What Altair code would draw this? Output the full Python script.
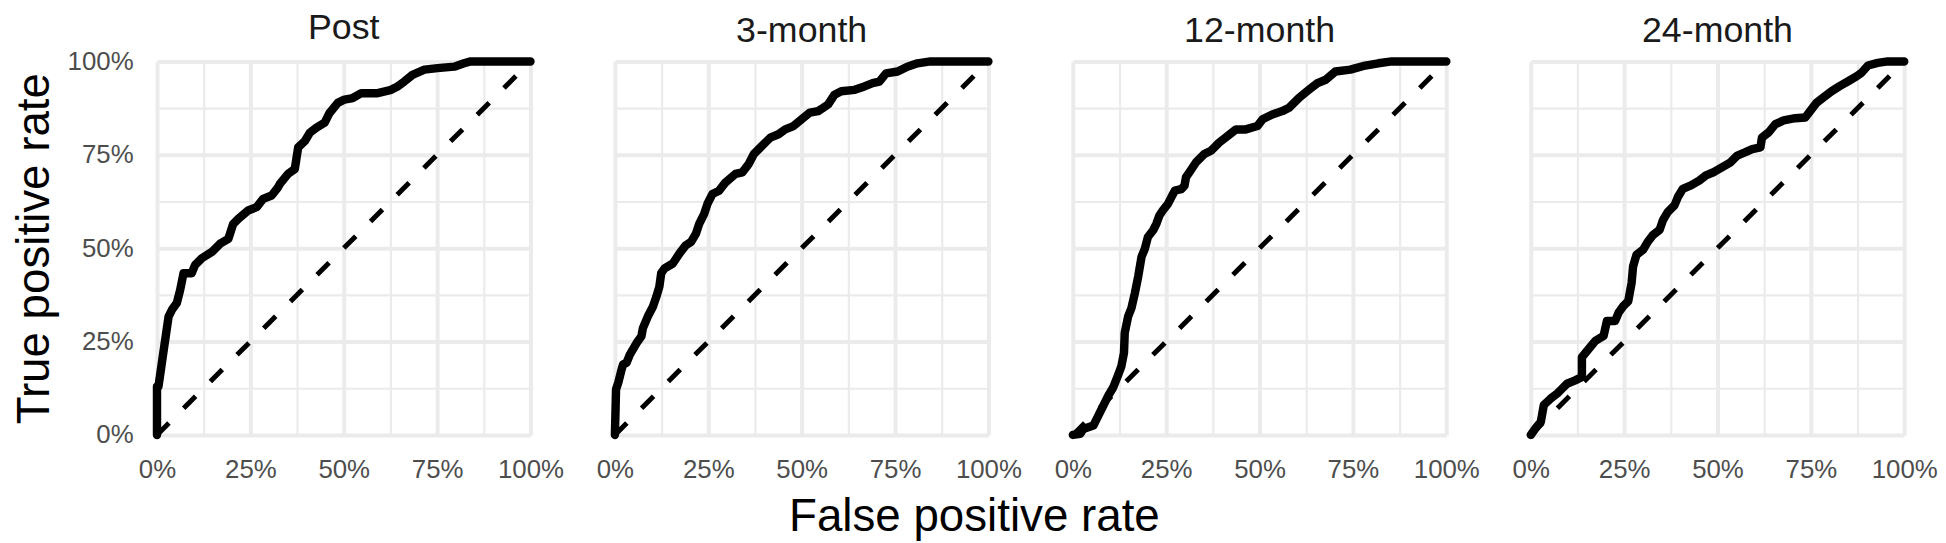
import altair as alt
import pandas as pd

FONT = "Liberation Sans"

panel_names = ["Post", "3-month", "12-month", "24-month"]

post_fpr = [0, 0, 0.004, 0.013, 0.022, 0.031, 0.04, 0.053, 0.062, 0.071, 0.093, 0.102, 0.12, 0.147,
            0.169, 0.191, 0.204, 0.218, 0.244, 0.267, 0.284, 0.307, 0.324, 0.329, 0.351, 0.369,
            0.378, 0.396, 0.409, 0.427, 0.449, 0.462, 0.484, 0.502, 0.524, 0.547, 0.591, 0.627,
            0.644, 0.662, 0.684, 0.716, 0.751, 0.796, 0.822, 0.84, 1.0]
post_tpr = [0, 0.13, 0.13, 0.193, 0.255, 0.317, 0.335, 0.353, 0.388, 0.433, 0.433, 0.455, 0.473,
            0.49, 0.512, 0.525, 0.565, 0.579, 0.601, 0.61, 0.632, 0.641, 0.663, 0.672, 0.699,
            0.712, 0.77, 0.787, 0.809, 0.823, 0.836, 0.862, 0.889, 0.898, 0.902, 0.915, 0.915,
            0.924, 0.933, 0.946, 0.964, 0.978, 0.982, 0.986, 0.995, 1.0, 1.0]

m3_fpr = [0, 0.003, 0.009, 0.018, 0.022, 0.031, 0.04, 0.058, 0.071, 0.075, 0.088, 0.102, 0.111,
          0.119, 0.124, 0.133, 0.155, 0.173, 0.19, 0.204, 0.217, 0.226, 0.239, 0.248, 0.261,
          0.279, 0.296, 0.323, 0.341, 0.358, 0.372, 0.394, 0.416, 0.438, 0.456, 0.478, 0.5,
          0.522, 0.544, 0.558, 0.571, 0.588, 0.606, 0.642, 0.668, 0.69, 0.708, 0.726, 0.757,
          0.783, 0.81, 0.845, 1.0]
m3_tpr = [0, 0.122, 0.14, 0.176, 0.189, 0.193, 0.215, 0.246, 0.264, 0.286, 0.317, 0.344, 0.37,
          0.397, 0.433, 0.446, 0.459, 0.486, 0.508, 0.517, 0.539, 0.566, 0.592, 0.619, 0.645,
          0.654, 0.676, 0.699, 0.703, 0.725, 0.752, 0.774, 0.796, 0.805, 0.818, 0.827, 0.845,
          0.863, 0.867, 0.876, 0.885, 0.911, 0.92, 0.924, 0.933, 0.942, 0.946, 0.968, 0.973,
          0.986, 0.995, 1.0, 1.0]

m12_fpr = [0, 0.02, 0.028, 0.055, 0.064, 0.077, 0.095, 0.108, 0.122, 0.13, 0.137, 0.139, 0.148,
           0.157, 0.166, 0.175, 0.184, 0.193, 0.201, 0.215, 0.224, 0.232, 0.241, 0.255, 0.264,
           0.273, 0.29, 0.299, 0.303, 0.312, 0.33, 0.352, 0.37, 0.392, 0.414, 0.437, 0.463,
           0.494, 0.508, 0.534, 0.561, 0.579, 0.606, 0.632, 0.655, 0.677, 0.703, 0.743, 0.783,
           0.818, 0.854, 1.0]
m12_tpr = [0, 0.003, 0.016, 0.025, 0.043, 0.069, 0.105, 0.127, 0.162, 0.184, 0.22, 0.273, 0.317,
           0.34, 0.379, 0.424, 0.477, 0.499, 0.53, 0.548, 0.566, 0.588, 0.601, 0.619, 0.637,
           0.654, 0.658, 0.667, 0.69, 0.703, 0.73, 0.752, 0.761, 0.783, 0.8, 0.818, 0.818,
           0.827, 0.845, 0.858, 0.867, 0.876, 0.903, 0.924, 0.942, 0.951, 0.973, 0.978, 0.989,
           0.995, 1.0, 1.0]

m24_fpr = [0, 0.013, 0.027, 0.035, 0.053, 0.071, 0.084, 0.097, 0.119, 0.137, 0.137, 0.155, 0.173,
           0.195, 0.204, 0.226, 0.235, 0.248, 0.261, 0.27, 0.274, 0.283, 0.301, 0.314, 0.327,
           0.345, 0.354, 0.367, 0.385, 0.394, 0.407, 0.429, 0.451, 0.469, 0.491, 0.513, 0.535,
           0.553, 0.575, 0.593, 0.615, 0.619, 0.637, 0.655, 0.677, 0.708, 0.735, 0.748, 0.765,
           0.783, 0.805, 0.827, 0.85, 0.872, 0.885, 0.903, 0.929, 0.956, 1.0]
m24_tpr = [0, 0.018, 0.035, 0.08, 0.097, 0.111, 0.124, 0.137, 0.146, 0.155, 0.208, 0.23, 0.252,
           0.265, 0.305, 0.305, 0.327, 0.345, 0.358, 0.407, 0.451, 0.482, 0.496, 0.518, 0.535,
           0.549, 0.575, 0.597, 0.615, 0.637, 0.659, 0.668, 0.681, 0.695, 0.704, 0.717, 0.73,
           0.748, 0.757, 0.765, 0.77, 0.796, 0.81, 0.832, 0.842, 0.848, 0.85, 0.867, 0.889,
           0.903, 0.92, 0.934, 0.947, 0.96, 0.969, 0.989, 0.996, 1.0, 1.0]

diag_fpr = [0, 1]
diag_tpr = [0, 1]

grid_values = [0, 0.125, 0.25, 0.375, 0.5, 0.625, 0.75, 0.875, 1.0]

series = [(panel_names[0], post_fpr, post_tpr),
          (panel_names[1], m3_fpr, m3_tpr),
          (panel_names[2], m12_fpr, m12_tpr),
          (panel_names[3], m24_fpr, m24_tpr)]

grid_width = {"condition": {"test": "datum.value % 0.25 === 0", "value": 4}, "value": 2.2}
label_expr = "datum.value % 0.25 === 0 ? format(datum.value, '.0%') : ''"


def make_panel(name, fpr, tpr, first):
    df = pd.DataFrame({"fpr": fpr, "tpr": tpr, "step": list(range(len(fpr)))})
    diag = pd.DataFrame({"fpr": diag_fpr, "tpr": diag_tpr})
    scale = alt.Scale(domain=[0, 1], nice=False, zero=False)
    xaxis = alt.Axis(values=grid_values, labelExpr=label_expr, title=None,
                     gridWidth=grid_width, labelFlush=False, labelOverlap=False,
                     labelPadding=22)
    if first:
        yaxis = alt.Axis(values=grid_values, labelExpr=label_expr,
                         title="True positive rate", gridWidth=grid_width,
                         labelFlush=False, labelOverlap=False, labelPadding=24,
                         titlePadding=9)
    else:
        yaxis = alt.Axis(values=grid_values, labels=False, title=None,
                         gridWidth=grid_width)
    dline = alt.Chart(diag).mark_line(
        color="black", strokeWidth=5, strokeDash=[17, 21], strokeCap="butt"
    ).encode(
        x=alt.X("fpr:Q", scale=scale, axis=xaxis),
        y=alt.Y("tpr:Q", scale=scale, axis=yaxis),
    )
    roc = alt.Chart(df).mark_line(
        color="black", strokeWidth=8.5, strokeCap="round", strokeJoin="round"
    ).encode(
        x=alt.X("fpr:Q", scale=scale, axis=xaxis),
        y=alt.Y("tpr:Q", scale=scale, axis=yaxis),
        order="step:Q",
    )
    return alt.layer(dline, roc).properties(
        width=376, height=376,
        title=alt.TitleParams(name, fontSize=36, font=FONT, fontWeight="normal",
                              color="#1a1a1a", anchor="middle", offset=2),
    )


panels = [make_panel(n, f, t, i == 0) for i, (n, f, t) in enumerate(series)]

chart = alt.hconcat(*panels, spacing=85, bounds="flush").properties(
    padding={"left": 3, "top": 0, "right": 0, "bottom": 0},
    title=alt.TitleParams("False positive rate", orient="bottom", anchor="middle",
                          fontSize=46, font=FONT, fontWeight="normal", color="black",
                          offset=13),
).configure_view(stroke=None).configure_axis(
    domain=False, ticks=False, gridColor="#ebebeb",
    labelFont=FONT, labelFontSize=26, labelColor="#4d4d4d",
    titleFont=FONT, titleFontSize=46, titleFontWeight="normal", titleColor="black",
)

chart.save("out.html", embed_options={"renderer": "svg", "actions": False})
